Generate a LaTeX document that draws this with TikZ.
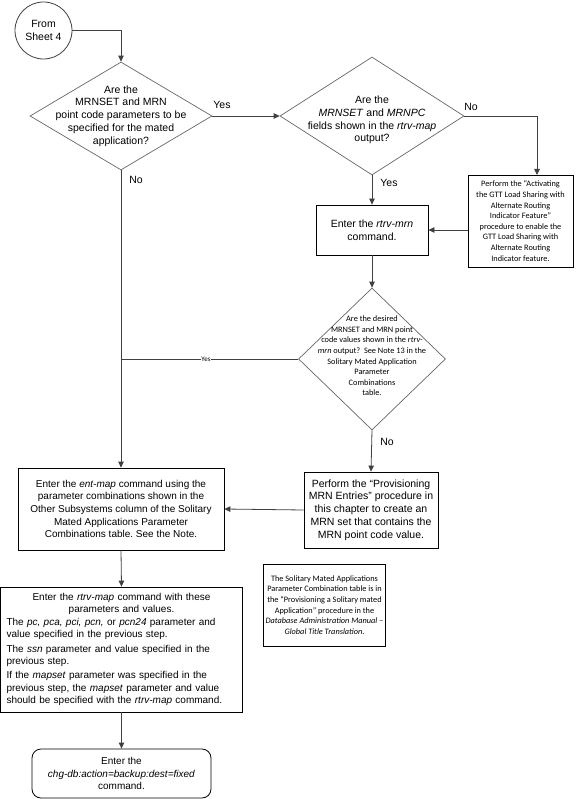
\documentclass[tikz,border=0pt]{standalone}
\usepackage{fontspec}
\setmainfont{Liberation Sans}
\newfontfamily\calfont{Carlito}
\usetikzlibrary{arrows.meta,shapes.geometric,positioning}
\frenchspacing

\newcommand\mainsize{\fontsize{10.5}{12.8}\selectfont}
\newcommand\boxsize{\fontsize{10}{12.6}\selectfont}
\newcommand\notesize{\calfont\fontsize{8.3}{10.6}\selectfont}

\tikzset{
  flow/.style={draw=black!75, line width=0.8pt, -{Triangle[length=6pt,width=5.5pt]}},
  plainline/.style={draw=black!75, line width=0.8pt},
  procbox/.style={draw=black, line width=0.8pt, align=center, inner sep=2pt, font=\mainsize},
  decision/.style={draw=black!60, diamond, line width=0.7pt, inner sep=0pt},
  tag/.style={font=\mainsize, inner sep=1pt},
}

\begin{document}
\begin{tikzpicture}[x=1pt, y=-1pt]
  \useasboundingbox (0,0) rectangle (575,799);
  % connector from the previous sheet
  \node[draw=black!75, circle, line width=0.8pt, minimum size=57pt, inner sep=0pt, align=center, font=\mainsize]
    (start) at (43.5,30.5) {From\\Sheet 4};

  % first question
  \node[decision, minimum width=182pt, minimum height=108pt] (q1) at (121,116) {};
  \node[font=\mainsize, align=center] (q1t) at (q1.center) {Are the\\MRNSET and MRN\\point code parameters to be\\specified for the mated\\application?};

  % second question
  \node[decision, minimum width=184pt, minimum height=118pt] (q2) at (372,116) {};
  \node[font=\mainsize, align=center] (q2t) at ([yshift=-4pt]q2.center) {Are the\\\textit{MRNSET} and \textit{MRNPC}\\fields shown in the \textit{rtrv-map}\\output?};

  % feature box on the right
  \node[procbox, font=\notesize, minimum width=105pt, minimum height=92pt] (act) at (520.5,221)
    {Perform the “Activating\\the GTT Load Sharing with\\Alternate Routing\\Indicator Feature”\\procedure to enable the\\GTT Load Sharing with\\Alternate Routing\\Indicator feature.};
  \coordinate (actin) at (537,175);

  \node[procbox, minimum width=112pt, minimum height=50pt] (mrn) at (372,230) {Enter the \textit{rtrv-mrn}\\command.};

  % third question
  \node[decision, minimum width=147pt, minimum height=142pt] (q3) at (372,359) {};
  \node[font=\notesize, align=center] (q3t) at ([yshift=3pt]q3.center) {Are the desired\\MRNSET and MRN point\\code values shown in the \textit{rtrv-}\\\textit{mrn} output?~ See Note 13 in the\\Solitary Mated Application\\Parameter\\Combinations\\table.};

  \node[procbox, minimum width=134pt, minimum height=76pt] (prov) at (371,510)
    {Perform the “Provisioning\\MRN Entries” procedure in\\this chapter to create an\\MRN set that contains the\\MRN point code value.};

  \node[procbox, font=\boxsize, minimum width=206pt, minimum height=82pt] (entmap) at (121,509)
    {Enter the \textit{ent-map} command using the\\parameter combinations shown in the\\Other Subsystems column of the Solitary\\Mated Applications Parameter\\Combinations table. See the Note.};

  % note
  \node[procbox, font=\notesize, minimum width=121pt, minimum height=82pt] (note) at (324.5,605)
    {The Solitary Mated Applications\\Parameter Combination table is in\\the “Provisioning a Solitary mated\\Application” procedure in the\\\textit{Database Administration Manual –}\\\textit{Global Title Translation}.};

  \node[procbox, font=\boxsize, align=left, text width=230pt, inner xsep=6pt, minimum height=125pt] (rtrvmap) at (121.5,649.5)
    {\hyphenpenalty=10000
     {\centering Enter the \textit{rtrv-map} command with these\\parameters and values.\par}
     The \textit{pc, pca, pci, pcn,} or \textit{pcn24} parameter and\\value specified in the previous step.\\[1.5pt]
     The \textit{ssn} parameter and value specified in the\\previous step.\\[1.5pt]
     If the \textit{mapset} parameter was specified in the\\previous step, the \textit{mapset} parameter and value\\should be specified with the \textit{rtrv-map} command.};

  \node[procbox, font=\boxsize, rounded corners=9pt, minimum width=179pt, minimum height=49pt] (final) at (121.5,773.5)
    {Enter the\\\textit{chg-db:action=backup:dest=fixed}\\command.};

  % connectors
  \draw[flow] (start.east) -| (q1.north);
  \draw[flow] (q1.east) -- (q2.west);
  \node[tag] (yes1) at (222,105) {Yes};
  \draw[flow] (q1.south) -- (entmap.north);
  \node[tag] (no1) at (136,180) {No};
  \draw[flow] (q2.east) -| (actin);
  \node[tag] (no2) at (471,107) {No};
  \draw[flow] (q2.south) -- (mrn.north);
  \node[tag] (yes2) at (389,183) {Yes};
  \draw[flow] (act.west |- mrn.east) -- (mrn.east);
  \draw[flow] (mrn.south) -- (q3.north);
  \draw[plainline] (q3.west) -- node[pos=0.52, fill=white, inner sep=0.5pt, font=\calfont\fontsize{7}{8}\selectfont] (yes3) {Yes} (q3.west -| q1.south);
  \draw[flow] (q3.south) -- (prov.north);
  \node[tag] (no3) at (387,442) {No};
  \draw[flow] (prov.west) -- (entmap.east);
  \draw[flow] (entmap.south) -- (rtrvmap.north);
  \draw[flow] (rtrvmap.south) -- (final.north);
\end{tikzpicture}
\end{document}
